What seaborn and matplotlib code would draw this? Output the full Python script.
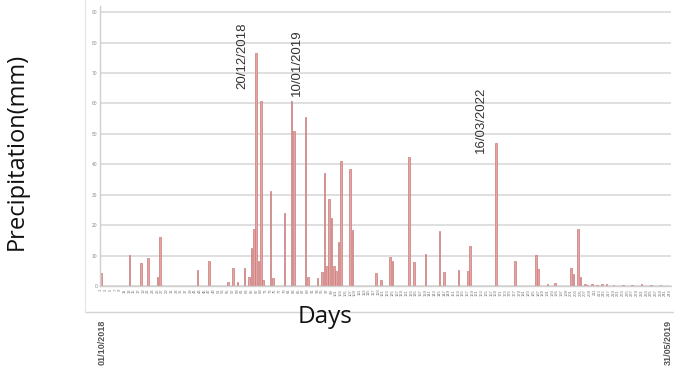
import numpy as np
import pandas as pd
import matplotlib
matplotlib.use("Agg")
import matplotlib.pyplot as plt
from matplotlib.lines import Line2D
from matplotlib.transforms import blended_transform_factory
import seaborn as sns

# Daily series: day number along the category axis
days = list(range(1, 244))

# Days with rainfall (0-based position in the series) and the amount in mm
rain_pos = [0, 12, 17, 20, 24, 25, 41, 46, 54, 56, 58, 61,
            63, 64, 65, 66, 67, 68, 69, 72, 73, 78, 81, 82, 87, 88,
            92, 94, 95, 96, 97, 98, 99, 100, 101, 102, 106, 107,
            117, 119, 123, 124, 131, 133, 138, 144, 146, 152, 156, 157,
            168, 176, 185, 186, 190, 193, 200, 201, 203, 204,
            206, 207, 209, 211, 213, 215, 218, 222, 226, 230, 234, 238]
rain_mm = [4.4, 10.2, 7.4, 9.1, 3.0, 16.2, 5.2, 8.2, 1.4, 5.8, 1.4, 5.8,
           3.0, 12.6, 18.6, 76.7, 8.2, 60.8, 2.0, 31.2, 2.7, 24.1, 60.8, 51.0, 55.4, 3.0,
           2.5, 4.7, 37.0, 6.5, 28.7, 22.5, 6.5, 5.0, 14.5, 41.2, 38.5, 18.4,
           4.3, 2.0, 9.6, 8.3, 42.5, 8.0, 10.6, 18.0, 4.6, 5.1, 5.0, 13.0,
           46.9, 8.2, 10.3, 5.5, 0.8, 1.0, 5.8, 4.0, 18.7, 2.8,
           0.5, 0.3, 0.6, 0.4, 0.8, 0.5, 0.3, 0.4, 0.3, 0.5, 0.3, 0.4]

# Notable storm days: series position, label, top of label (mm)
note_pos = [60.2, 83.2, 161.8]
note_text = ["20/12/2018", "10/01/2019", "16/03/2022"]
note_top = [86.5, 84.2, 65.5]

y_ticks = list(range(0, 100, 10))
period_start, period_end = "01/10/2018", "31/05/2019"

precip = np.zeros(len(days))
precip[rain_pos] = rain_mm
df = pd.DataFrame({"day": days, "precip": precip})

sns.set_style("white")
plt.rcParams["font.family"] = ["Liberation Sans", "DejaVu Sans"]

fig = plt.figure(figsize=(6.74, 3.82), dpi=100)
ax = fig.add_axes([100 / 674, 96 / 382, 571 / 674, 280 / 382])

sns.barplot(data=df, x="day", y="precip", order=days, color="#e9a3a3",
            edgecolor="#c97b7b", linewidth=0.5, width=0.7, ax=ax,
            saturation=1, errorbar=None)

ax.set_xlim(-0.5, len(days) - 0.5)
ax.set_ylim(0, 92)
ax.set_yticks(y_ticks)
ax.set_yticklabels([str(v) for v in y_ticks], fontsize=3.5, color="#8a8a8a")
ax.yaxis.grid(True, color="#dcdcdc", linewidth=1.3)
ax.set_axisbelow(True)
tick_idx = list(range(0, len(days), 2))
ax.set_xticks(tick_idx)
ax.set_xticklabels([str(days[i]) for i in tick_idx], rotation=90,
                   fontsize=3, color="#777777")
ax.tick_params(axis="both", length=0, pad=2)
ax.set_xlabel("")
ax.set_ylabel("")
for side in ["top", "right"]:
    ax.spines[side].set_visible(False)
for side in ["left", "bottom"]:
    ax.spines[side].set_color("#cfcfcf")
    ax.spines[side].set_linewidth(1.0)

for x, t, top in zip(note_pos, note_text, note_top):
    ax.text(x, top, t, rotation=90, ha="center", va="top",
            fontsize=9.5, color="#333333")

# Outer chart-area border
fig.add_artist(Line2D([85 / 674, 1.0], [1 - 312 / 382, 1 - 312 / 382],
                      transform=fig.transFigure, color="#d4d4d4", lw=1.0))
fig.add_artist(Line2D([85 / 674, 85 / 674], [1 - 312 / 382, 1.0],
                      transform=fig.transFigure, color="#e4e4e4", lw=0.8))

# Period start / end labels below the axis
trans = blended_transform_factory(ax.transData, fig.transFigure)
ax.text(0.5, 1 - 320 / 382, period_start, transform=trans, rotation=90,
        ha="center", va="top", fontsize=6.5, fontweight="bold", color="#555555")
ax.text(len(days) - 1.5, 1 - 320 / 382, period_end, transform=trans, rotation=90,
        ha="center", va="top", fontsize=6.5, fontweight="bold", color="#555555")

fig.text(17 / 674, 1 - 151 / 382, "Precipitation(mm)", rotation=90,
         ha="center", va="center", fontsize=17, family=["Open Sans", "DejaVu Sans"],
         color="#111111")
fig.text(325 / 674, 1 - 317 / 382, "Days", ha="center", va="center",
         fontsize=17.5, family=["Open Sans", "DejaVu Sans"], color="#111111")

fig.savefig("out.png", dpi=100)
